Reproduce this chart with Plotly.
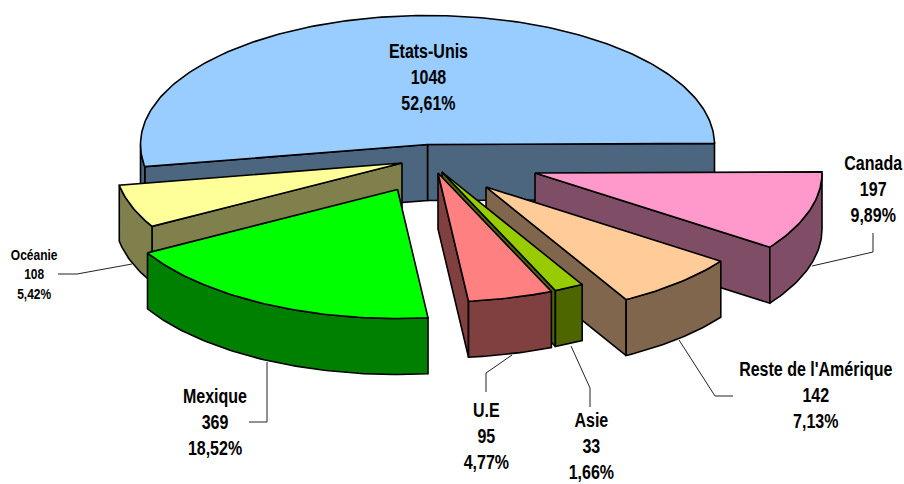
import numpy as np
import plotly.graph_objects as go

# ---- data -------------------------------------------------------------
categories = ["Etats-Unis", "Océanie", "Mexique", "U.E", "Asie", "Reste de l'Amérique", "Canada"]
values = [1048, 108, 369, 95, 33, 142, 197]

# ---- styles / layout ----------------------------------------------------
top_colors = ["#99CCFF", "#FFFF99", "#00FF00", "#FF8080", "#99CC00", "#FFCC99", "#FF99CC"]
wall_colors = ["#4D6680", "#80804D", "#008000", "#804040", "#4D6600", "#80664D", "#804D66"]
apex_x = [427.5, 402, 397.5, 438, 442, 486, 535]
apex_y = [144.5, 163, 189.5, 173, 172, 187, 173]
label_x = [428, 33.5, 215, 486, 591, 815, 873]
label_y = [77, 274, 422, 436, 446, 395, 189]
label_size = [20, 15, 20, 20, 20, 20, 20]
leaders = [
    None,
    [(58, 274), (77, 274), (132, 264)],
    [(267, 362), (267, 422), (249, 422)],
    [(512, 355), (486, 373), (486, 392)],
    [(571, 346), (590, 388), (590, 407)],
    [(679, 340), (715, 396), (733, 396)],
    [(812, 266), (873, 252), (873, 233)],
]
draw_order = [0, 6, 5, 4, 3, 1, 2]
RX, RY, DEPTH, ROTATION = 287.0, 129.0, 56.0, 0.5
FONT = "Liberation Sans, Arial, sans-serif"

total = sum(values)
spans = [v / total * 360 for v in values]
starts = ROTATION + np.concatenate([[0], np.cumsum(spans)[:-1]])
ends = starts + np.array(spans)


def pt(i, deg):
    a = np.radians(deg)
    return apex_x[i] + RX * np.cos(a), apex_y[i] - RY * np.sin(a)


def arc(i, a0, a1):
    n = max(int(abs(a1 - a0)) + 2, 3)
    return pt(i, np.linspace(a0, a1, n))


fig = go.Figure()


def poly(xs, ys, color):
    fig.add_trace(go.Scatter(
        x=list(xs), y=list(ys), mode="lines", fill="toself", fillcolor=color,
        line=dict(color="black", width=1.6), hoverinfo="skip", showlegend=False,
    ))


# leader lines
for lead in leaders:
    if lead:
        fig.add_trace(go.Scatter(
            x=[p[0] for p in lead], y=[p[1] for p in lead], mode="lines",
            line=dict(color="#222222", width=1), hoverinfo="skip", showlegend=False,
        ))

for i in draw_order:
    s, e = starts[i], ends[i]
    # radial faces seen from the front
    for edge, visible in ((s, np.cos(np.radians(s)) > 0), (e, np.cos(np.radians(e)) < 0)):
        if visible:
            ox, oy = pt(i, edge)
            poly([apex_x[i], ox, ox, apex_x[i], apex_x[i]],
                 [apex_y[i], oy, oy + DEPTH, apex_y[i] + DEPTH, apex_y[i]], wall_colors[i])
    # outer curved wall (front half of the ellipse only)
    a0, a1 = max(s, 180.0), min(e, 360.0)
    if a1 > a0:
        ax, ay = arc(i, a0, a1)
        poly(np.r_[ax, ax[::-1], ax[0]], np.r_[ay, ay[::-1] + DEPTH, ay[0]], wall_colors[i])
    # top face
    ax, ay = arc(i, s, e)
    poly(np.r_[apex_x[i], ax, apex_x[i]], np.r_[apex_y[i], ay, apex_y[i]], top_colors[i])

for i, name in enumerate(categories):
    pct = f"{values[i] / total * 100:.2f}".replace(".", ",")
    fig.add_annotation(
        x=label_x[i], y=label_y[i], xref="x", yref="y", showarrow=False, align="center",
        text=f"<b>{name}<br>{values[i]}<br>{pct}%</b>",
        font=dict(family=FONT, size=label_size[i], color="black"),
    )

fig.update_layout(
    width=904, height=484, margin=dict(l=0, r=0, t=0, b=0),
    paper_bgcolor="white", plot_bgcolor="white", showlegend=False,
    xaxis=dict(range=[0, 904], visible=False, fixedrange=True),
    yaxis=dict(range=[484, 0], visible=False, fixedrange=True),
)

# page margin off; labels condensed horizontally like the reference's narrow type
post = """
document.body.style.margin = '0';
document.documentElement.style.overflow = 'hidden';
document.querySelectorAll('.annotation-text').forEach(function (t) {
    var b = t.getBBox(), c = b.x + b.width / 2;
    t.setAttribute('transform', 'translate(' + c + ',0) scale(0.8,1) translate(' + (-c) + ',0)');
});
"""
fig.write_html("out.html", config={"displayModeBar": False}, post_script=post)
